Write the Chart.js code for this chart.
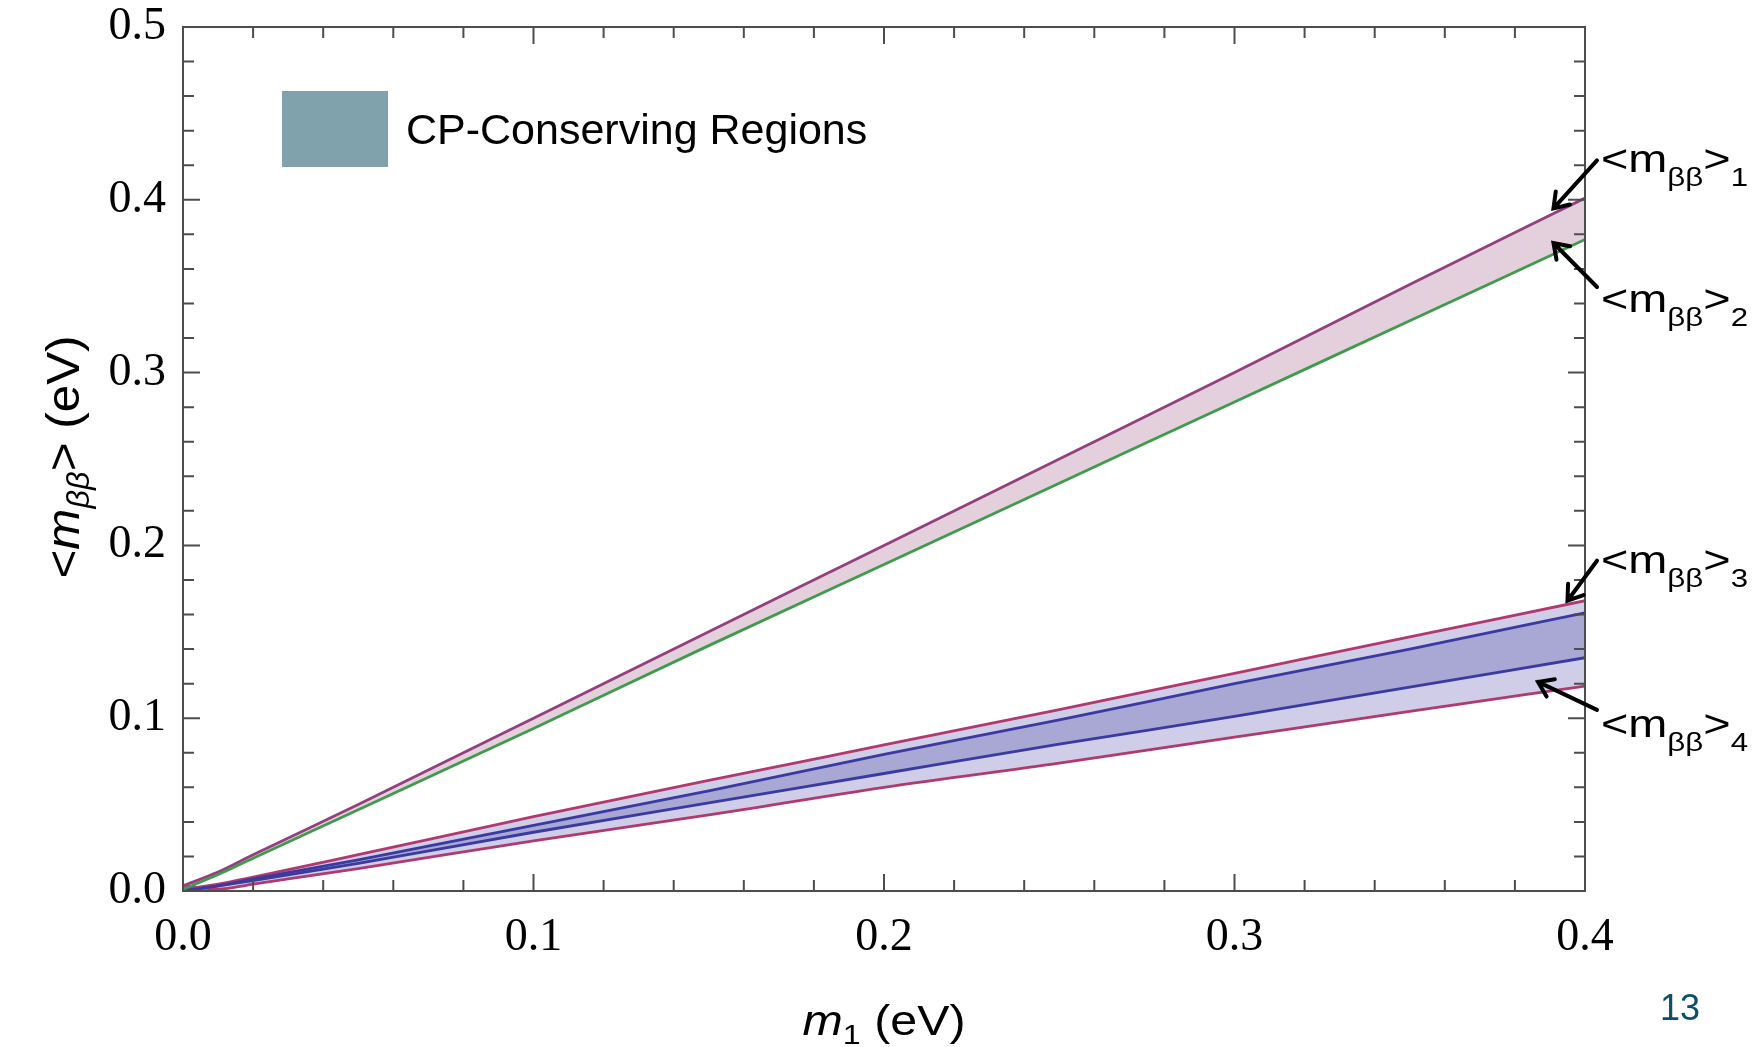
<!DOCTYPE html>
<html>
<head>
<meta charset="utf-8">
<title>m_bb vs m1</title>
<script src="https://cdn.jsdelivr.net/npm/chart.js@4/dist/chart.umd.min.js"></script>
<style>
  body { margin: 0; background: #fff; }
  #chartCanvas { display: block; }
</style>
</head>
<body>
<canvas id="chartCanvas" width="1761" height="1047"></canvas>
<script>
// lightest neutrino mass m1 (eV)
var m1Values = [0, 0.01, 0.02, 0.05, 0.1, 0.15, 0.2, 0.25, 0.3, 0.35, 0.4];
// effective Majorana mass, CP-conserving cases (eV)
var mbb1 = [0.003, 0.011, 0.021, 0.050, 0.100, 0.150, 0.200, 0.250, 0.300, 0.351, 0.401];
var mbb2 = [0.001, 0.0095, 0.019, 0.047, 0.094, 0.142, 0.189, 0.236, 0.283, 0.330, 0.377];
var mbb3 = [0.001, 0.004, 0.008, 0.021, 0.043, 0.064, 0.0845, 0.105, 0.126, 0.147, 0.168];
var mbb4 = [0.003, 0.001, 0.004, 0.013, 0.029, 0.044, 0.060, 0.074, 0.089, 0.104, 0.1186];
// inner boundaries of the lower band
var innerUpper = [0.000, 0.003, 0.007, 0.018, 0.038, 0.058, 0.079, 0.099, 0.120, 0.140, 0.161];
var innerLower = [0.000, 0.003, 0.006, 0.016, 0.034, 0.051, 0.068, 0.085, 0.101, 0.118, 0.135];

var xTicks = [0, 0.1, 0.2, 0.3, 0.4];
var yTicks = [0, 0.1, 0.2, 0.3, 0.4, 0.5];
var legendText = "CP-Conserving Regions";
var pageNumber = "13";

// labels on the right: subscript index, arrow tip (m1, mbb)
var curveLabels = ["1", "2", "3", "4"];
var arrowTips = [[0.391, 0.395], [0.391, 0.375], [0.395, 0.168], [0.3866, 0.121]];

var SANS = "'Liberation Sans', Arial, sans-serif";
var SERIF = "'Liberation Serif', 'Times New Roman', serif";

function points(ys) {
    var out = [];
    for (var i = 0; i < m1Values.length; i++) out.push({ x: m1Values[i], y: ys[i] });
    return out;
}

function line(ys, color, extra) {
    var ds = {
        data: points(ys),
        borderColor: color,
        borderWidth: 2.8,
        pointRadius: 0,
        cubicInterpolationMode: "monotone",
        fill: false,
        order: 1
    };
    for (var k in extra) ds[k] = extra[k];
    return ds;
}

// text made of pieces with different fonts / baseline shifts, squeezed to a given width
function richText(ctx, parts, x, y, width, align) {
    var natural = 0;
    parts.forEach(function (p) { ctx.font = p.font; natural += ctx.measureText(p.t).width; });
    var sx = width ? width / natural : 1;
    ctx.save();
    ctx.translate(x, y);
    ctx.scale(sx, 1);
    var cx = align === "center" ? -natural / 2 : 0;
    ctx.textBaseline = "alphabetic";
    ctx.textAlign = "left";
    parts.forEach(function (p) {
        ctx.font = p.font;
        ctx.fillText(p.t, cx, p.dy || 0);
        cx += ctx.measureText(p.t).width;
    });
    ctx.restore();
}

function arrow(ctx, x1, y1, x2, y2) {
    var a = Math.atan2(y2 - y1, x2 - x1);
    var h = 17, spread = 0.6;
    ctx.beginPath();
    ctx.moveTo(x1, y1);
    ctx.lineTo(x2, y2);
    ctx.moveTo(x2 - h * Math.cos(a - spread), y2 - h * Math.sin(a - spread));
    ctx.lineTo(x2, y2);
    ctx.lineTo(x2 - h * Math.cos(a + spread), y2 - h * Math.sin(a + spread));
    ctx.stroke();
}

// Mathematica style frame: box with inward ticks on all four sides
var frameTicks = {
    id: "frameTicks",
    afterDatasetsDraw: function (chart) {
        var ctx = chart.ctx, a = chart.chartArea;
        var xs = chart.scales.x, ys = chart.scales.y;
        ctx.save();
        ctx.strokeStyle = "#4d4d4d";
        ctx.lineWidth = 2;
        ctx.strokeRect(a.left, a.top, a.right - a.left, a.bottom - a.top);
        ctx.beginPath();
        for (var i = 0; i <= 20; i++) {
            var len = i % 5 === 0 ? 17 : 11;
            var px = xs.getPixelForValue(i * 0.02);
            ctx.moveTo(px, a.bottom); ctx.lineTo(px, a.bottom - len);
            ctx.moveTo(px, a.top); ctx.lineTo(px, a.top + len);
        }
        for (var j = 0; j <= 25; j++) {
            var l2 = j % 5 === 0 ? 17 : 11;
            var py = ys.getPixelForValue(j * 0.02);
            ctx.moveTo(a.left, py); ctx.lineTo(a.left + l2, py);
            ctx.moveTo(a.right, py); ctx.lineTo(a.right - l2, py);
        }
        ctx.stroke();
        ctx.restore();
    },
    afterDraw: function (chart) {
        var ctx = chart.ctx, a = chart.chartArea;
        var xs = chart.scales.x, ys = chart.scales.y;
        ctx.save();
        ctx.fillStyle = "#000";

        // axis titles
        richText(ctx, [
            { t: "m", font: "italic 42px " + SANS },
            { t: "1", font: "28px " + SANS, dy: 9 },
            { t: " (eV)", font: "42px " + SANS }
        ], (a.left + a.right) / 2, 1035, 163, "center");

        ctx.save();
        ctx.translate(79, (a.top + a.bottom) / 2 - 2);
        ctx.rotate(-Math.PI / 2);
        richText(ctx, [
            { t: "<", font: "47px " + SANS },
            { t: "m", font: "italic 47px " + SANS },
            { t: "ββ", font: "italic 31px " + SANS, dy: 10 },
            { t: ">", font: "47px " + SANS },
            { t: " (eV)", font: "47px " + SANS }
        ], 0, 0, 243, "center");
        ctx.restore();

        // legend
        ctx.fillStyle = "#7fa2ac";
        ctx.fillRect(a.left + 99, a.top + 64, 106, 76);
        ctx.fillStyle = "#000";
        ctx.font = "43px " + SANS;
        ctx.textBaseline = "alphabetic";
        ctx.fillText(legendText, a.left + 223, a.top + 117);

        // curve labels with arrows
        var baselines = [172, 312, 573, 737];
        ctx.strokeStyle = "#000";
        ctx.lineWidth = 4;
        ctx.lineCap = "round";
        for (var i = 0; i < curveLabels.length; i++) {
            richText(ctx, [
                { t: "<", font: "39px " + SANS },
                { t: "m", font: "39px " + SANS },
                { t: "ββ", font: "26px " + SANS, dy: 14 },
                { t: ">", font: "39px " + SANS },
                { t: curveLabels[i], font: "26px " + SANS, dy: 14 }
            ], a.right + 16, baselines[i], 147, "left");
            var tx = xs.getPixelForValue(arrowTips[i][0]);
            var ty = ys.getPixelForValue(arrowTips[i][1]);
            var tailY = i % 2 === 0 ? ty - (i === 0 ? 48 : 40) : ty + (i === 1 ? 44 : 28);
            arrow(ctx, a.right + 12, tailY, tx, ty);
        }

        // slide page number
        ctx.fillStyle = "#0b4f6c";
        ctx.font = "36px " + SANS;
        ctx.fillText(pageNumber, 1660, 1020);
        ctx.restore();
    }
};

var ctx = document.getElementById("chartCanvas");
var myChart = new Chart(ctx, {
    type: "line",
    data: {
        datasets: [
            line(mbb1, "#93407f", { fill: "+1", backgroundColor: "#e4d0dc", order: 2 }),
            line(mbb2, "#3f9b4c"),
            line(mbb3, "#b03a70", { fill: 5, backgroundColor: "#cfcde7", order: 3 }),
            line(innerUpper, "#3a3aa0", { fill: "+1", backgroundColor: "#a9a7d4", order: 2 }),
            line(innerLower, "#3a3aa0"),
            line(mbb4, "#b03a70")
        ]
    },
    options: {
        responsive: false,
        animation: false,
        layout: { padding: { top: 27, right: 176, left: 0, bottom: 0 }, autoPadding: false },
        plugins: {
            legend: { display: false },
            tooltip: { enabled: false }
        },
        scales: {
            x: {
                type: "linear",
                min: 0,
                max: 0.4,
                afterBuildTicks: function (s) { s.ticks = xTicks.map(function (v) { return { value: v }; }); },
                afterFit: function (s) { s.height = 156; s.paddingLeft = 0; s.paddingRight = 0; },
                grid: { display: false, drawTicks: false },
                border: { display: false },
                ticks: {
                    padding: 19,
                    color: "#000",
                    font: { family: SERIF, size: 46 },
                    callback: function (v) { return v.toFixed(1); }
                }
            },
            y: {
                type: "linear",
                min: 0,
                max: 0.5,
                afterBuildTicks: function (s) { s.ticks = yTicks.map(function (v) { return { value: v }; }); },
                afterFit: function (s) { s.width = 183; s.paddingTop = 0; s.paddingBottom = 0; },
                grid: { display: false, drawTicks: false },
                border: { display: false },
                ticks: {
                    padding: 17,
                    color: "#000",
                    font: { family: SERIF, size: 46 },
                    callback: function (v) { return v.toFixed(1); }
                }
            }
        }
    },
    plugins: [frameTicks]
});
</script>
</body>
</html>
